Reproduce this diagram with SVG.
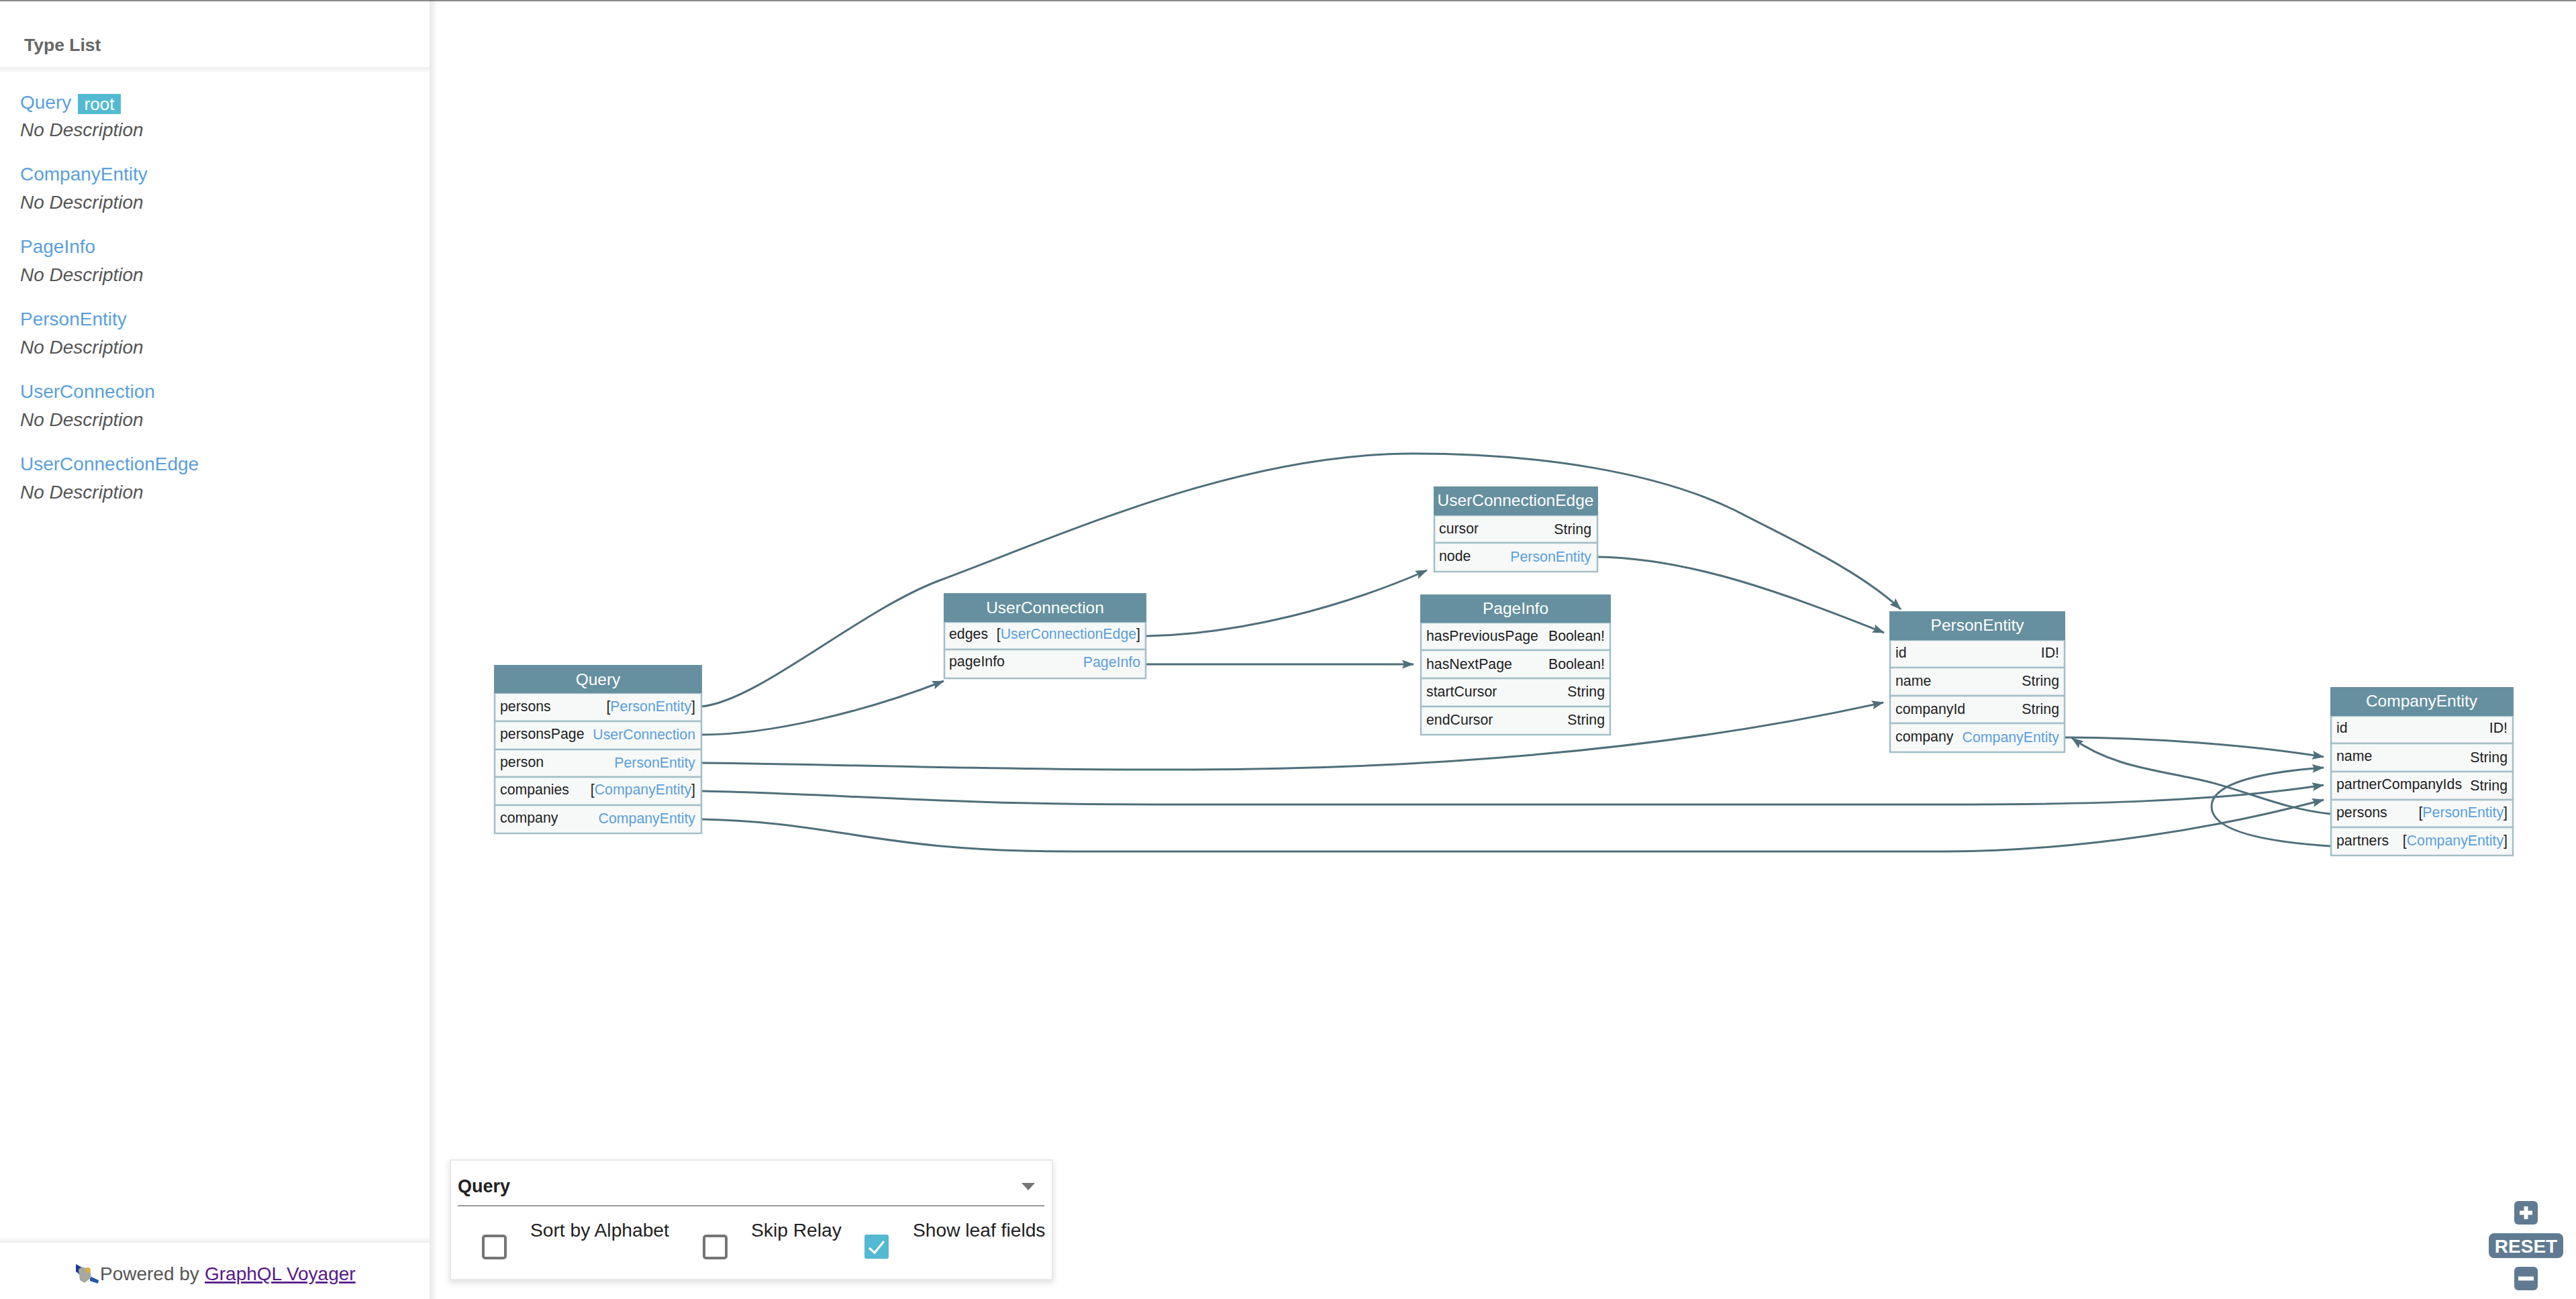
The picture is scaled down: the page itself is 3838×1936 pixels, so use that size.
<svg xmlns="http://www.w3.org/2000/svg" width="3838" height="1936" viewBox="0 0 3838 1936">
<style>
text{font-family:"Liberation Sans",Arial,sans-serif}
.hd{fill:#66909f}
.hdt{fill:#fff;font-size:24.5px;text-anchor:middle}
.row{fill:#f7f9f9;stroke:#a3bfc8;stroke-width:2.5}
.f{fill:#222;font-size:21.3px}
.t{fill:#222;font-size:21.3px;text-anchor:end}
.l{fill:#5b9fdc}
.edge{fill:none;stroke:#4f6f7b;stroke-width:3;marker-end:url(#arrow)}
.side{fill:#5b9fdc;font-size:28px}
.nd{fill:#555;font-size:28px;font-style:italic}
.lab{fill:#222;font-size:28.2px}
.cb{fill:#fff;stroke:#757575;stroke-width:4}
.btn{fill:#607b91}
</style>
<defs>
<marker id="arrow" viewBox="0 0 18 13" refX="17" refY="6.5" markerWidth="18" markerHeight="13" markerUnits="userSpaceOnUse" orient="auto"><path d="M0 0L18 6.5L0 13L3 6.5Z" fill="#4f6f7b"/></marker>
<linearGradient id="gr"><stop offset="0" stop-color="#000" stop-opacity=".09"/><stop offset="1" stop-color="#000" stop-opacity="0"/></linearGradient>
<linearGradient id="gd" x2="0" y2="1"><stop offset="0" stop-color="#000" stop-opacity=".07"/><stop offset="1" stop-color="#000" stop-opacity="0"/></linearGradient>
<linearGradient id="gu" x2="0" y2="1"><stop offset="0" stop-color="#000" stop-opacity="0"/><stop offset="1" stop-color="#000" stop-opacity=".07"/></linearGradient>
<filter id="sh" x="-5%" y="-10%" width="110%" height="125%"><feDropShadow dx="0" dy="4" stdDeviation="5" flood-color="#000" flood-opacity=".13"/></filter>
</defs>
<rect width="3838" height="1936" fill="#fff"/>
<rect width="3838" height="2" fill="#8a8a8a"/>

<g id="connectors">
<path class="edge" d="M1045 1053C1130 1045 1280 910 1400 865C1600 790 1850 676 2105 676C2300 676 2470 705 2584 760C2670 805 2770 850 2832 908"/>
<path class="edge" d="M1045 1095C1150 1095 1290 1060 1406 1015"/>
<path class="edge" d="M1045 1137C1300 1140 1500 1148 1750 1147C2150 1147 2500 1115 2806 1047"/>
<path class="edge" d="M1045 1179C1250 1183 1400 1199 1720 1199L2900 1199C3100 1199 3300 1195 3462 1170"/>
<path class="edge" d="M1045 1221C1250 1225 1300 1269 1600 1269L2900 1269C3100 1268 3300 1235 3462 1192"/>
<path class="edge" d="M1707 948C1850 945 2000 905 2126 850"/>
<path class="edge" d="M1707 990L2106 990"/>
<path class="edge" d="M2380 830C2520 832 2660 885 2807 943"/>
<path class="edge" d="M3076 1099C3200 1099 3350 1110 3462 1128"/>
<path class="edge" d="M3472 1213C3400 1205 3350 1180 3290 1165C3220 1148 3150 1145 3087 1100"/>
<path class="edge" d="M3472 1261C3380 1255 3295 1240 3295 1202C3295 1165 3380 1150 3462 1144"/>
</g>

<g id="node-query">
<rect class="row" x="737" y="1033" width="308" height="42"/><rect class="row" x="737" y="1075" width="308" height="42"/><rect class="row" x="737" y="1117" width="308" height="41"/><rect class="row" x="737" y="1158" width="308" height="42"/><rect class="row" x="737" y="1200" width="308" height="42"/>
<rect class="hd" x="736" y="991" width="310" height="42"/>
<text class="hdt" x="891" y="1021">Query</text>
<text class="f" x="745" y="1060">persons</text><text class="t" x="1036" y="1060">[<tspan class="l">PersonEntity</tspan>]</text>
<text class="f" x="745" y="1101">personsPage</text><text class="t" x="1036" y="1102"><tspan class="l">UserConnection</tspan></text>
<text class="f" x="745" y="1143">person</text><text class="t" x="1036" y="1144"><tspan class="l">PersonEntity</tspan></text>
<text class="f" x="745" y="1184">companies</text><text class="t" x="1036" y="1184">[<tspan class="l">CompanyEntity</tspan>]</text>
<text class="f" x="745" y="1226">company</text><text class="t" x="1036" y="1227"><tspan class="l">CompanyEntity</tspan></text>
</g>

<g id="node-userconnection">
<rect class="row" x="1407" y="927" width="300" height="41"/><rect class="row" x="1407" y="968" width="300" height="43"/>
<rect class="hd" x="1406" y="884" width="302" height="43"/>
<text class="hdt" x="1557" y="914">UserConnection</text>
<text class="f" x="1414" y="952">edges</text><text class="t" x="1699" y="952">[<tspan class="l">UserConnectionEdge</tspan>]</text>
<text class="f" x="1414" y="993">pageInfo</text><text class="t" x="1699" y="994"><tspan class="l">PageInfo</tspan></text>
</g>

<g id="node-userconnectionedge">
<rect class="row" x="2137" y="768" width="243" height="41"/><rect class="row" x="2137" y="809" width="243" height="43"/>
<rect class="hd" x="2136" y="725" width="245" height="43"/>
<text class="hdt" x="2258" y="754">UserConnectionEdge</text>
<text class="f" x="2144" y="795">cursor</text><text class="t" x="2371" y="796">String</text>
<text class="f" x="2144" y="836">node</text><text class="t" x="2371" y="837"><tspan class="l">PersonEntity</tspan></text>
</g>

<g id="node-pageinfo">
<rect class="row" x="2117" y="928" width="282" height="41"/><rect class="row" x="2117" y="969" width="282" height="42"/><rect class="row" x="2117" y="1011" width="282" height="42"/><rect class="row" x="2117" y="1053" width="282" height="42"/>
<rect class="hd" x="2116" y="886" width="284" height="42"/>
<text class="hdt" x="2258" y="915">PageInfo</text>
<text class="f" x="2125" y="955">hasPreviousPage</text><text class="t" x="2391" y="955">Boolean!</text>
<text class="f" x="2125" y="997">hasNextPage</text><text class="t" x="2391" y="997">Boolean!</text>
<text class="f" x="2125" y="1038">startCursor</text><text class="t" x="2391" y="1038">String</text>
<text class="f" x="2125" y="1080">endCursor</text><text class="t" x="2391" y="1080">String</text>
</g>

<g id="node-personentity">
<rect class="row" x="2816" y="954" width="260" height="41"/><rect class="row" x="2816" y="995" width="260" height="42"/><rect class="row" x="2816" y="1037" width="260" height="41"/><rect class="row" x="2816" y="1078" width="260" height="43"/>
<rect class="hd" x="2815" y="911" width="262" height="43"/>
<text class="hdt" x="2946" y="940">PersonEntity</text>
<text class="f" x="2824" y="980">id</text><text class="t" x="3068" y="980">ID!</text>
<text class="f" x="2824" y="1022">name</text><text class="t" x="3068" y="1022">String</text>
<text class="f" x="2824" y="1064">companyId</text><text class="t" x="3068" y="1064">String</text>
<text class="f" x="2824" y="1105">company</text><text class="t" x="3068" y="1106"><tspan class="l">CompanyEntity</tspan></text>
</g>

<g id="node-companyentity">
<rect class="row" x="3473" y="1067" width="271" height="41"/><rect class="row" x="3473" y="1108" width="271" height="42"/><rect class="row" x="3473" y="1150" width="271" height="42"/><rect class="row" x="3473" y="1192" width="271" height="41"/><rect class="row" x="3473" y="1233" width="271" height="42"/>
<rect class="hd" x="3472" y="1024" width="273" height="43"/>
<text class="hdt" x="3608" y="1053">CompanyEntity</text>
<text class="f" x="3481" y="1092">id</text><text class="t" x="3736" y="1092">ID!</text>
<text class="f" x="3481" y="1134">name</text><text class="t" x="3736" y="1136">String</text>
<text class="f" x="3481" y="1176">partnerCompanyIds</text><text class="t" x="3736" y="1178">String</text>
<text class="f" x="3481" y="1218">persons</text><text class="t" x="3736" y="1218">[<tspan class="l">PersonEntity</tspan>]</text>
<text class="f" x="3481" y="1260">partners</text><text class="t" x="3736" y="1260">[<tspan class="l">CompanyEntity</tspan>]</text>
</g>

<g id="sidebar">
<rect x="640" y="0" width="12" height="1936" fill="url(#gr)"/>
<rect x="0" y="100" width="640" height="9" fill="url(#gd)"/>
<text x="36" y="76" fill="#666" font-size="26.5" font-weight="700">Type List</text>
<text class="side" x="30" y="162">Query</text>
<rect x="116" y="140" width="64" height="30" fill="#53bad1"/>
<text x="148" y="164" fill="#fff" font-size="26" text-anchor="middle">root</text>
<text class="nd" x="30" y="203">No Description</text>
<text class="side" x="30" y="269">CompanyEntity</text><text class="nd" x="30" y="311">No Description</text>
<text class="side" x="30" y="377">PageInfo</text><text class="nd" x="30" y="419">No Description</text>
<text class="side" x="30" y="485">PersonEntity</text><text class="nd" x="30" y="527">No Description</text>
<text class="side" x="30" y="593">UserConnection</text><text class="nd" x="30" y="635">No Description</text>
<text class="side" x="30" y="701">UserConnectionEdge</text><text class="nd" x="30" y="743">No Description</text>
<rect x="0" y="1843" width="640" height="9" fill="url(#gu)"/>
<path d="M113 1884L124 1890L122 1902L113 1895Z" fill="#1a3a9a"/>
<path d="M134 1902L147 1908L146 1913L134 1909Z" fill="#1f5aa8"/>
<path d="M117 1892L122 1888L134 1892L136 1904L126 1912L119 1908Z" fill="#a8a8a0"/>
<circle cx="131" cy="1893" r="4" fill="#d8b040"/>
<text x="149" y="1908" fill="#555" font-size="28">Powered by</text>
<text x="305" y="1908" fill="#551a8b" font-size="28" text-decoration="underline">GraphQL Voyager</text>
</g>

<g id="settings-panel">
<rect x="671" y="1729" width="897" height="178" fill="#fff" stroke="#e8e8e8" stroke-width="2" filter="url(#sh)"/>
<text x="682" y="1777" fill="#222" font-size="27" font-weight="700">Query</text>
<path d="M1522 1763H1542L1532 1774Z" fill="#757575"/>
<rect x="682" y="1796" width="874" height="2" fill="#999"/>
<rect class="cb" x="720" y="1842" width="33" height="33" rx="3"/>
<text class="lab" x="790" y="1843">Sort by Alphabet</text>
<rect class="cb" x="1049" y="1842" width="33" height="33" rx="3"/>
<text class="lab" x="1119" y="1843">Skip Relay</text>
<rect x="1288" y="1840" width="36" height="36" rx="3" fill="#53bad1"/>
<path d="M1295 1860L1303 1867L1317 1850" fill="none" stroke="#fff" stroke-width="3"/>
<text class="lab" x="1360" y="1843">Show leaf fields</text>
</g>

<g id="zoom-controls">
<rect class="btn" x="3746" y="1790" width="35" height="35" rx="6"/>
<path d="M3754 1807.5H3773M3763.5 1798V1817" stroke="#fff" stroke-width="6"/>
<rect class="btn" x="3708" y="1838" width="111" height="37" rx="8"/>
<text x="3763.5" y="1867" fill="#fff" font-size="28" font-weight="700" text-anchor="middle">RESET</text>
<rect class="btn" x="3746" y="1888" width="35" height="35" rx="6"/>
<path d="M3752 1905.5H3775" stroke="#fff" stroke-width="6"/>
</g>
</svg>
